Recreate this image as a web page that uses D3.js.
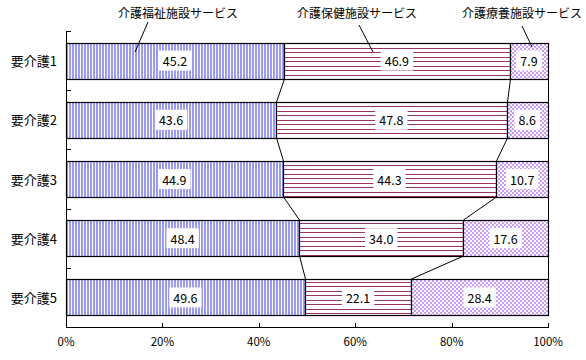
<!DOCTYPE html>
<html><head><meta charset="utf-8">
<script src="https://cdn.jsdelivr.net/npm/d3@7"></script>
<style>
body{margin:0;background:#fff;}
text{font-family:"Noto Sans CJK JP","DejaVu Sans",sans-serif;}
</style></head>
<body>
<svg id="c" width="586" height="360"></svg>
<script>
const categories = ["要介護1","要介護2","要介護3","要介護4","要介護5"];
const seriesNames = ["介護福祉施設サービス","介護保健施設サービス","介護療養施設サービス"];
const welfare = [45.2, 43.6, 44.9, 48.4, 49.6];
const health  = [46.9, 47.8, 44.3, 34.0, 22.1];
const medical = [7.9, 8.6, 10.7, 17.6, 28.4];
const xTicks = [0, 20, 40, 60, 80, 100];
const xTickLabels = ["0%","20%","40%","60%","80%","100%"];

const svg = d3.select("#c");
const M = {left:66, right:548, top:31, bottom:327};

const defs = svg.append("defs");
const p0 = defs.append("pattern").attr("id","pat0").attr("patternUnits","userSpaceOnUse")
  .attr("width",3).attr("height",4);
p0.append("rect").attr("width",3).attr("height",4).attr("fill","#9999ff");
p0.append("rect").attr("x",2).attr("width",1).attr("height",4).attr("fill","#ffffff");
const p1 = defs.append("pattern").attr("id","pat1").attr("patternUnits","userSpaceOnUse")
  .attr("width",4).attr("height",9).attr("y",1);
p1.append("rect").attr("width",4).attr("height",9).attr("fill","#ffffff");
p1.append("rect").attr("y",2).attr("width",4).attr("height",1).attr("fill","#993366");
p1.append("rect").attr("y",6).attr("width",4).attr("height",1).attr("fill","#993366");
const p2 = defs.append("pattern").attr("id","pat2").attr("patternUnits","userSpaceOnUse")
  .attr("width",4).attr("height",4);
p2.append("rect").attr("width",4).attr("height",4).attr("fill","#ffffff");
p2.append("rect").attr("width",2).attr("height",2).attr("fill","#cc99ff");
p2.append("rect").attr("x",2).attr("y",2).attr("width",2).attr("height",2).attr("fill","#cc99ff");

const x = d3.scaleLinear().domain([0,100]).range([M.left, M.right]);
const y = d3.scaleBand().domain(categories).range([M.top, M.bottom]).paddingInner(0.39).paddingOuter(0.195);

const rows = categories.map((c,i)=>({cat:c, vals:[welfare[i],health[i],medical[i]]}));
rows.forEach(r=>{
  const s = d3.sum(r.vals);
  let acc = 0;
  r.segs = r.vals.map((v,k)=>{ const a=acc; acc += v/s*100; return {k, v, x0:a, x1:acc}; });
});

const g = svg.append("g");
for (let i=0;i<rows.length-1;i++){
  const r0=rows[i], r1=rows[i+1];
  for (let k=0;k<3;k++){
    g.append("line")
      .attr("x1", Math.round(x(r0.segs[k].x1))+0.5).attr("y1", Math.round(y(r0.cat)+y.bandwidth()))
      .attr("x2", Math.round(x(r1.segs[k].x1))+0.5).attr("y2", Math.round(y(r1.cat)))
      .attr("stroke","#000").attr("stroke-width",1);
  }
}

rows.forEach(r=>{
  r.segs.forEach(s=>{
    const x0 = Math.round(x(s.x0)), x1 = Math.round(x(s.x1));
    const y0 = Math.round(y(r.cat)), h = Math.round(y.bandwidth());
    g.append("rect").attr("x",x0+0.5).attr("y",y0+0.5).attr("width",x1-x0).attr("height",h)
      .attr("fill",`url(#pat${s.k})`).attr("stroke","#000").attr("stroke-width",1.2);
  });
});

rows.forEach(r=>{
  r.segs.forEach(s=>{
    const cx = (x(s.x0)+x(s.x1))/2, cy = y(r.cat)+y.bandwidth()/2;
    const lg = g.append("g");
    const t = lg.append("text").attr("x",cx).attr("y",cy).attr("text-anchor","middle")
      .attr("dominant-baseline","central").attr("font-size",12.5).attr("fill","#000")
      .text(s.v.toFixed(1));
    const bb = t.node().getBBox();
    lg.insert("rect","text").attr("x",bb.x-4).attr("y",cy-10).attr("width",bb.width+8).attr("height",20)
      .attr("fill","#fff");
  });
});

const ax = svg.append("g").attr("stroke","#000").attr("stroke-width",1);
ax.append("line").attr("x1",M.left+0.5).attr("x2",M.left+0.5).attr("y1",M.top).attr("y2",M.bottom+0.5);
ax.append("line").attr("x1",M.left).attr("x2",M.right+1).attr("y1",M.bottom+0.5).attr("y2",M.bottom+0.5);
for (let i=0;i<=categories.length;i++){
  const yy = Math.round(M.top + i*y.step())+0.5;
  ax.append("line").attr("x1",M.left).attr("x2",M.left+5).attr("y1",yy).attr("y2",yy);
}
xTicks.forEach(t=>{
  const xx = Math.round(x(t))+0.5;
  ax.append("line").attr("x1",xx).attr("x2",xx).attr("y1",M.bottom).attr("y2",M.bottom-4);
});
svg.append("g").selectAll("text").data(xTicks).join("text")
  .attr("x",d=>x(d)).attr("y",346).attr("text-anchor","middle").attr("font-size",11.5)
  .text((d,i)=>xTickLabels[i]);

svg.append("g").selectAll("text").data(categories).join("text")
  .attr("x",57).attr("y",d=>y(d)+y.bandwidth()/2).attr("text-anchor","end")
  .attr("dominant-baseline","central").attr("font-size",13).text(d=>d);

const callouts = [
  {tx:178, ty:12, x1:148, y1:22, x2:135, y2:52},
  {tx:357, ty:12, x1:359, y1:25, x2:373, y2:52},
  {tx:522, ty:12, x1:522, y1:26, x2:532, y2:47}
];
callouts.forEach((c,i)=>{
  svg.append("text").attr("x",c.tx).attr("y",c.ty).attr("text-anchor","middle")
    .attr("dominant-baseline","central").attr("font-size",12).text(seriesNames[i]);
  svg.append("line").attr("x1",c.x1).attr("y1",c.y1).attr("x2",c.x2).attr("y2",c.y2)
    .attr("stroke","#000").attr("stroke-width",1);
});
</script>
</body></html>
